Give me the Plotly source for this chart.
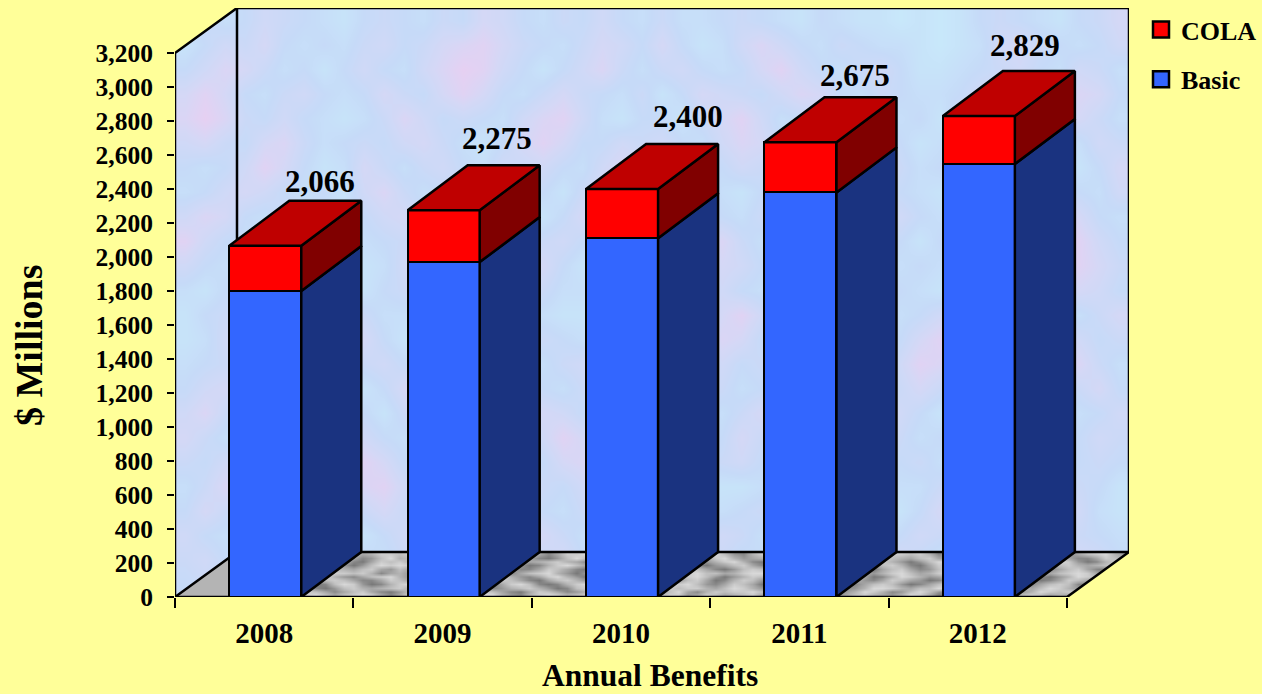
import numpy as np
import plotly.graph_objects as go

years = ["2008", "2009", "2010", "2011", "2012"]
basic = [1800, 1970, 2110, 2380, 2547]
totals = [2066, 2275, 2400, 2675, 2829]
total_labels = ["2,066", "2,275", "2,400", "2,675", "2,829"]
y_ticks = list(range(0, 3201, 200))

label_dx = [55, 53, 66, 55, 46]
label_dy = [64, 72, 73, 67, 71]

wall_tile = [
    [3, 4, 3, 2, 4, 3, 6, 5, 3, 2, 4, 3, 5, 3, 2, 3, 4, 2, 3, 5, 4, 3, 2, 1],
    [4, 5, 3, 4, 6, 7, 8, 6, 4, 3, 2, 4, 6, 5, 3, 1, 3, 5, 4, 6, 3, 2, 3, 2],
    [5, 3, 2, 5, 7, 9, 8, 5, 3, 1, 3, 5, 7, 4, 2, 3, 5, 7, 6, 4, 2, 3, 1, 3],
    [3, 6, 4, 3, 6, 8, 6, 3, 2, 4, 6, 4, 3, 2, 4, 6, 8, 6, 3, 2, 4, 5, 3, 2],
    [2, 4, 7, 5, 3, 4, 3, 2, 5, 7, 8, 5, 2, 1, 3, 7, 9, 7, 4, 3, 5, 3, 2, 1],
    [4, 3, 5, 6, 4, 2, 1, 3, 6, 8, 6, 3, 3, 5, 4, 5, 6, 4, 3, 6, 7, 4, 2, 3],
    [6, 4, 2, 4, 5, 3, 2, 5, 4, 5, 3, 2, 5, 7, 6, 3, 2, 3, 5, 8, 6, 3, 1, 2],
    [5, 7, 4, 2, 3, 5, 6, 4, 2, 3, 1, 4, 6, 8, 5, 2, 3, 5, 6, 5, 3, 2, 3, 1],
    [3, 5, 6, 3, 1, 4, 7, 6, 3, 1, 3, 6, 5, 4, 3, 5, 7, 6, 3, 2, 4, 3, 2, 2],
    [2, 3, 4, 5, 3, 2, 5, 4, 2, 4, 5, 3, 2, 3, 6, 8, 5, 3, 2, 4, 5, 3, 1, 1],
    [1, 2, 5, 6, 4, 3, 2, 3, 5, 6, 3, 1, 2, 5, 7, 5, 3, 2, 4, 3, 2, 2, 1, 0],
    [1, 3, 4, 3, 2, 1, 3, 4, 6, 4, 2, 2, 3, 4, 3, 2, 1, 3, 2, 1, 1, 0, 1, 0],
]
floor_tile = [
    [7, 8, 8, 6, 4, 4, 6, 8, 9, 7, 5, 7, 8, 9, 8, 5, 3, 5, 8, 8, 9, 7, 7, 5, 6, 8, 9, 9, 6, 4, 3, 6, 8, 9, 8, 6, 7, 8, 5, 4, 6, 8, 9, 7, 5, 6, 8, 8],
    [6, 7, 5, 3, 2, 3, 7, 8, 7, 5, 3, 5, 7, 8, 5, 3, 2, 4, 7, 9, 7, 5, 3, 2, 4, 7, 8, 7, 5, 3, 2, 5, 8, 7, 5, 3, 4, 6, 3, 2, 5, 7, 8, 5, 3, 4, 7, 9],
    [8, 6, 4, 3, 5, 7, 8, 5, 3, 2, 4, 7, 8, 6, 5, 6, 7, 8, 6, 5, 3, 2, 4, 5, 7, 8, 5, 3, 4, 6, 7, 8, 6, 4, 2, 3, 7, 8, 6, 4, 7, 8, 6, 3, 2, 5, 8, 7],
    [9, 8, 6, 7, 8, 9, 6, 4, 2, 3, 7, 9, 8, 4, 2, 3, 6, 8, 9, 7, 5, 4, 6, 8, 9, 6, 3, 2, 5, 8, 9, 7, 3, 2, 3, 6, 8, 9, 8, 7, 8, 6, 4, 2, 4, 7, 9, 8],
    [7, 5, 3, 5, 8, 7, 5, 6, 5, 7, 8, 7, 5, 3, 3, 5, 8, 7, 5, 3, 2, 5, 8, 9, 6, 4, 5, 6, 8, 7, 5, 3, 2, 5, 7, 8, 6, 4, 3, 5, 8, 7, 6, 5, 7, 8, 5, 4],
    [6, 4, 2, 4, 7, 8, 8, 7, 8, 9, 6, 4, 3, 5, 7, 8, 9, 6, 4, 2, 4, 7, 9, 7, 4, 3, 6, 8, 9, 6, 4, 3, 5, 8, 9, 6, 4, 2, 3, 7, 9, 8, 8, 7, 8, 6, 3, 5],
]

YELLOW = "#FFFF99"
WALL = "#CFDCF6"
FONT = "Liberation Serif"
LW = 2.5

y_max = y_ticks[-1]
bar_w = 72 / 178.4
bar_dx = 60 / 178.4
bar_dy = 45 / 0.17
wall_dx = 62 / 178.4
wall_dy = 45 / 0.17
x0 = -0.5
x1 = len(years) - 0.5
y_top = y_max + wall_dy
xpos = [i + 0.006 for i in range(len(years))]
cola = [t - b for t, b in zip(totals, basic)]

# Repeat the tiles, shifted, to reach the fine grain of the wall and floor
A = np.array(wall_tile)
wall_tex = np.block([[A, np.roll(A, 5, axis=0)[:, ::-1]],
                     [np.roll(A, 9, axis=1)[::-1], np.roll(A, 15, axis=1)]])
F = np.array(floor_tile)
floor_tex = np.block([[F, np.roll(F, 2, axis=0)[:, ::-1]],
                      [np.roll(F, 17, axis=1)[::-1], np.roll(F, 29, axis=1)]])


def poly(pts_list):
    xs, ys = [], []
    for pts in pts_list:
        xs += [p[0] for p in pts] + [pts[0][0], None]
        ys += [p[1] for p in pts] + [pts[0][1], None]
    return xs, ys


def face(pts_list, color, axes=("x", "y")):
    xs, ys = poly(pts_list)
    return go.Scatter(
        x=xs, y=ys, mode="lines", fill="toself", fillcolor=color,
        line=dict(color="black", width=LW), showlegend=False,
        hoverinfo="skip", cliponaxis=False, xaxis=axes[0], yaxis=axes[1],
    )


def nofill_line(pts, axes=("x", "y")):
    return go.Scatter(
        x=[p[0] for p in pts], y=[p[1] for p in pts], mode="lines",
        line=dict(color="black", width=LW), showlegend=False, hoverinfo="skip",
        cliponaxis=False, xaxis=axes[0], yaxis=axes[1],
    )


fig = go.Figure()

# Back wall and floor textures (lowest layer)
fig.add_trace(go.Heatmap(
    z=wall_tex,
    x=np.linspace(x0, x1 + wall_dx, wall_tex.shape[1] + 1),
    y=np.linspace(0, y_top, wall_tex.shape[0] + 1),
    zmin=0, zmax=9, zsmooth="best", showscale=False, hoverinfo="skip",
    colorscale=[[0, "#C8E8FA"], [0.33, "#C6DAF8"], [0.66, "#D4D8F6"], [1, "#E6D0F2"]],
))
fig.add_trace(go.Heatmap(
    z=floor_tex,
    x=np.linspace(x0 + wall_dx, x1 + wall_dx, floor_tex.shape[1] + 1),
    y=np.linspace(0, wall_dy, floor_tex.shape[0] + 1),
    zmin=0, zmax=9, zsmooth="best", showscale=False, hoverinfo="skip",
    colorscale=[[0, "#585858"], [0.5, "#A0A0A0"], [1, "#D8D8D8"]],
))

# Trim the wall and floor to their outline
for pts, col in [
    ([(x0, 0), (x0 + wall_dx, wall_dy), (x0 + wall_dx, 0)], "#B4B4B4"),
    ([(x1, 0), (x1 + wall_dx, wall_dy), (x1 + wall_dx, 0)], YELLOW),
    ([(x0, y_max), (x0, y_top), (x0 + wall_dx, y_top)], YELLOW),
]:
    tr = face([pts], col)
    tr.line = dict(width=0, color=col)
    fig.add_trace(tr)

# Wall frame
for pts in [
    [(x0, 0), (x0, y_max), (x0 + wall_dx, y_top), (x1 + wall_dx, y_top), (x1 + wall_dx, wall_dy), (x1, 0), (x0, 0)],
    [(x0, 0), (x0 + wall_dx, wall_dy), (x1 + wall_dx, wall_dy)],
    [(x0 + wall_dx, wall_dy), (x0 + wall_dx, y_top)],
]:
    fig.add_trace(nofill_line(pts))

# Bars on the overlay subplot, so they sit above the floor
AX2 = ("x2", "y2")
fig.add_trace(go.Bar(x=xpos, y=basic, width=bar_w, name="Basic", marker=dict(color="#3366FF", line=dict(color="black", width=LW)),
                     xaxis="x2", yaxis="y2", showlegend=False, cliponaxis=False))
fig.add_trace(go.Bar(x=xpos, y=cola, width=bar_w, name="COLA", marker=dict(color="#FF0000", line=dict(color="black", width=LW)),
                     xaxis="x2", yaxis="y2", showlegend=False, cliponaxis=False))

side_blue, side_red, top_red = [], [], []
for x, b, t in zip(xpos, basic, totals):
    xr = x + bar_w / 2
    xl = x - bar_w / 2
    side_blue.append([(xr, 0), (xr + bar_dx, bar_dy), (xr + bar_dx, b + bar_dy), (xr, b)])
    side_red.append([(xr, b), (xr + bar_dx, b + bar_dy), (xr + bar_dx, t + bar_dy), (xr, t)])
    top_red.append([(xl, t), (xr, t), (xr + bar_dx, t + bar_dy), (xl + bar_dx, t + bar_dy)])
fig.add_trace(face(side_blue, "#1A3380", AX2))
fig.add_trace(face(side_red, "#800000", AX2))
fig.add_trace(face(top_red, "#BF0000", AX2))

# Legend keys
for nm, col in [("COLA", "#FF0000"), ("Basic", "#3366FF")]:
    fig.add_trace(go.Scatter(
        x=[None], y=[None], mode="markers", name=nm, legendgroup=nm,
        marker=dict(symbol="square", size=16, color=col, line=dict(color="black", width=LW)),
    ))

annotations = [
    dict(x=x, y=t, text=s, xref="x2", yref="y2", xshift=dx, yshift=dy, showarrow=False,
         xanchor="center", yanchor="middle", font=dict(family=FONT, size=31, color="black", weight="bold"))
    for x, t, s, dx, dy in zip(xpos, totals, total_labels, label_dx, label_dy)
]
annotations.append(dict(
    text="$ Millions", textangle=-90, xref="paper", yref="paper", showarrow=False,
    x=(29 - 175) / 954, y=(597 - 345) / 589, xanchor="center", yanchor="middle",
    font=dict(family=FONT, size=38, color="black", weight="bold"),
))
annotations.append(dict(
    text="Annual Benefits", xref="paper", yref="paper", showarrow=False,
    x=(650 - 175) / 954, y=(597 - 675) / 589, xanchor="center", yanchor="middle",
    font=dict(family=FONT, size=31.5, color="black", weight="bold"),
))

fig.update_layout(
    width=1262, height=694, autosize=False,
    margin=dict(l=175, r=133, t=8, b=97, pad=0),
    paper_bgcolor=YELLOW, plot_bgcolor=WALL,
    barmode="stack", bargap=0,
    annotations=annotations,
    legend=dict(
        xref="container", yref="container",
        x=1141 / 1262, y=1 - 6 / 694, xanchor="left", yanchor="top",
        font=dict(family=FONT, size=26, color="black", weight="bold"),
        tracegroupgap=13, bgcolor="rgba(0,0,0,0)", itemclick=False, itemdoubleclick=False,
    ),
    xaxis=dict(
        range=[x0, x1 + wall_dx], tickvals=list(range(len(years))), ticktext=years,
        ticks="", ticklabelstandoff=16, showgrid=False, zeroline=False, showline=False, automargin=False,
        tickfont=dict(family=FONT, size=29, color="black", weight="bold"),
        minor=dict(tickvals=[i - 0.5 for i in range(len(years) + 1)], ticks="outside", ticklen=10,
                   tickwidth=2, tickcolor="black", showgrid=False),
    ),
    yaxis=dict(
        range=[0, y_top], tickvals=y_ticks, ticktext=[f"{v:,}" for v in y_ticks], automargin=False,
        ticks="outside", ticklen=7, tickwidth=2, tickcolor="black", ticklabelstandoff=9,
        showgrid=False, zeroline=False, showline=False,
        tickfont=dict(family=FONT, size=25.5, color="black", weight="bold"),
    ),
    xaxis2=dict(range=[x0, x1 + wall_dx], overlaying="x", visible=False, matches=None),
    yaxis2=dict(range=[0, y_top], overlaying="y", visible=False),
)

fig.write_html(
    "out.html",
    config={"displayModeBar": False},
    post_script="document.body.style.margin='0';document.documentElement.style.overflow='hidden';",
)
